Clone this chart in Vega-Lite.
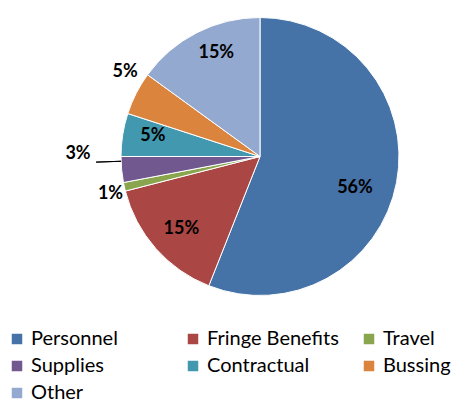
{
  "$schema": "https://vega.github.io/schema/vega-lite/v6.json",
  "autosize": {"type": "none"},
  "width": 376,
  "height": 313,
  "padding": {"left": 72, "top": 0, "right": 4, "bottom": 91},
  "background": "white",
  "config": {"view": {"stroke": null}, "font": "Lato"},
  "data": {
    "values": [
      {"idx": 1, "category": "Personnel", "value": 0.56},
      {"idx": 2, "category": "Fringe Benefits", "value": 0.15},
      {"idx": 3, "category": "Travel", "value": 0.01},
      {"idx": 4, "category": "Supplies", "value": 0.03},
      {"idx": 5, "category": "Contractual", "value": 0.05},
      {"idx": 6, "category": "Bussing", "value": 0.05},
      {"idx": 7, "category": "Other", "value": 0.15}
    ]
  },
  "encoding": {
    "theta": {"field": "value", "type": "quantitative", "stack": true},
    "order": {"field": "idx", "type": "quantitative"},
    "color": {
      "field": "category",
      "type": "nominal",
      "scale": {
        "domain": ["Personnel", "Fringe Benefits", "Travel", "Supplies", "Contractual", "Bussing", "Other"],
        "range": ["#4572A7", "#AA4643", "#89A54E", "#71588F", "#4198AF", "#DB843D", "#93A9CF"]
      },
      "legend": {
        "title": null,
        "orient": "none",
        "legendX": -65,
        "legendY": 329,
        "padding": 0,
        "direction": "horizontal",
        "columns": 3,
        "gridAlign": "all",
        "columnPadding": 20,
        "rowPadding": 7,
        "symbolType": "square",
        "symbolSize": 110,
        "symbolStrokeWidth": 0,
        "labelFont": "Lato",
        "labelFontSize": 20,
        "labelColor": "#000000",
        "labelOffset": 4,
        "labelLimit": 300
      }
    }
  },
  "layer": [
    {"mark": {"type": "arc", "outerRadius": 139, "stroke": "white", "strokeWidth": 1}},
    {
      "mark": {"type": "arc", "innerRadius": 139, "outerRadius": 164, "padAngle": 0.3, "thetaOffset": 0.06, "stroke": "#000000", "strokeWidth": 1, "fillOpacity": 0},
      "encoding": {
        "strokeOpacity": {"condition": {"test": "datum.category === 'Supplies'", "value": 1}, "value": 0}
      }
    },
    {
      "mark": {"type": "text", "radius": 100, "thetaOffset": 0.13, "font": "Lato", "fontWeight": "bold", "fontSize": 18},
      "encoding": {"text": {"condition": {"test": "datum.category === 'Personnel'", "field": "value", "format": ".0%"}, "value": ""}, "color": {"value": "#000000"}}
    },
    {
      "mark": {"type": "text", "radius": 107, "thetaOffset": -0.023, "font": "Lato", "fontWeight": "bold", "fontSize": 18},
      "encoding": {"text": {"condition": {"test": "datum.category === 'Fringe Benefits'", "field": "value", "format": ".0%"}, "value": ""}, "color": {"value": "#000000"}}
    },
    {
      "mark": {"type": "text", "radius": 109, "thetaOffset": 0.031, "font": "Lato", "fontWeight": "bold", "fontSize": 18},
      "encoding": {"text": {"condition": {"test": "datum.category === 'Contractual'", "field": "value", "format": ".0%"}, "value": ""}, "color": {"value": "#000000"}}
    },
    {
      "mark": {"type": "text", "radius": 112, "thetaOffset": 0.07, "font": "Lato", "fontWeight": "bold", "fontSize": 18},
      "encoding": {"text": {"condition": {"test": "datum.category === 'Other'", "field": "value", "format": ".0%"}, "value": ""}, "color": {"value": "#000000"}}
    },
    {
      "mark": {"type": "text", "radius": 154, "thetaOffset": -0.023, "font": "Lato", "fontWeight": "bold", "fontSize": 18},
      "encoding": {"text": {"condition": {"test": "datum.category === 'Travel'", "field": "value", "format": ".0%"}, "value": ""}, "color": {"value": "#000000"}}
    },
    {
      "mark": {"type": "text", "radius": 182, "thetaOffset": 0.108, "font": "Lato", "fontWeight": "bold", "fontSize": 18},
      "encoding": {"text": {"condition": {"test": "datum.category === 'Supplies'", "field": "value", "format": ".0%"}, "value": ""}, "color": {"value": "#000000"}}
    },
    {
      "mark": {"type": "text", "radius": 159, "thetaOffset": 0.087, "font": "Lato", "fontWeight": "bold", "fontSize": 18},
      "encoding": {"text": {"condition": {"test": "datum.category === 'Bussing'", "field": "value", "format": ".0%"}, "value": ""}, "color": {"value": "#000000"}}
    }
  ]
}
